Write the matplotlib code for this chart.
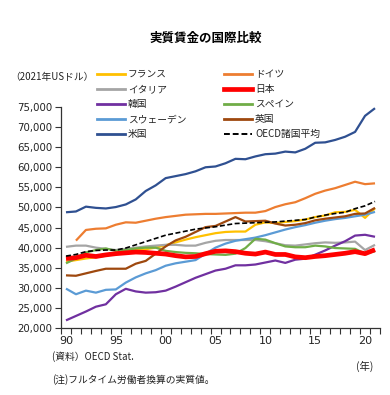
import matplotlib
matplotlib.use("Agg")
import matplotlib.pyplot as plt
from matplotlib.lines import Line2D
from matplotlib.ticker import FuncFormatter, FixedLocator
import numpy as np

plt.rcParams['font.family'] = ['Noto Sans CJK JP', 'DejaVu Sans']

years = list(range(1990, 2022))
tick_years = [1990, 1995, 2000, 2005, 2010, 2015, 2020]
tick_labels = ["90", "95", "00", "05", "10", "15", "20"]

france = [36500, 36900, 37300, 37600, 38000, 38600, 39000, 39400, 39600, 40000, 40600, 41300, 42000, 42600, 43100, 43600,
          43900, 44000, 44000, 45700, 46300, 46100, 46400, 46600, 47000, 47600, 48000, 48800, 48900, 49400, 47400, 49800]
germany = [np.nan, 41750, 44400, 44700, 44800, 45700, 46300, 46200, 46700, 47200, 47600, 47900, 48200, 48300, 48400, 48400,
           48500, 48600, 48700, 48700, 49100, 50100, 50800, 51300, 52300, 53400, 54200, 54800, 55600, 56400, 55800, 56000]
italy = [40200, 40500, 40500, 40000, 39700, 39400, 39700, 40000, 40300, 40500, 40700, 40700, 40500, 40500, 41200, 41700,
         41900, 41900, 41900, 41900, 41600, 41100, 40600, 40500, 40800, 41100, 41300, 41200, 41300, 41500, 39400, 40700]
japan = [37300, 37500, 38100, 37800, 38200, 38500, 38700, 38900, 38800, 38600, 38400, 38000, 37700, 37800, 38500, 39100,
         39200, 39000, 38600, 38400, 38900, 38300, 38300, 37700, 37500, 37800, 38000, 38300, 38600, 39000, 38500, 39500]
korea = [21900, 23000, 24100, 25300, 25900, 28400, 29750, 29100, 28800, 28900, 29300, 30300, 31400, 32500, 33400, 34300,
         34750, 35600, 35600, 35800, 36300, 36800, 36200, 37000, 37250, 38250, 39300, 40500, 41600, 43000, 43200, 42700]
spain = [36100, 37300, 38800, 39400, 39800, 39200, 39400, 39800, 40000, 40000, 39200, 38900, 38700, 38600, 38400, 38300,
         38200, 38500, 39900, 42200, 42000, 41100, 40300, 40100, 40100, 40500, 40300, 39900, 39800, 39700, 38500, 39100]
sweden = [29800, 28400, 29300, 28800, 29500, 29600, 31300, 32600, 33600, 34400, 35500, 36100, 36500, 36900, 38500, 40000,
          41000, 41700, 42100, 42500, 43100, 43800, 44500, 45100, 45600, 46200, 46700, 47100, 47400, 47800, 48200, 48900]
uk = [33100, 33000, 33600, 34200, 34750, 34750, 34750, 36000, 36700, 38500, 40300, 41800, 42700, 43900, 45100, 45400,
      46500, 47600, 46500, 46600, 46700, 46000, 45500, 45700, 46100, 46800, 47200, 47500, 47800, 48400, 48500, 49900]
usa = [48800, 49000, 50200, 49900, 49750, 50100, 50750, 52000, 54100, 55500, 57300, 57800, 58300, 59000, 60000, 60200,
       61000, 62100, 62000, 62700, 63250, 63400, 63900, 63700, 64600, 66100, 66200, 66800, 67600, 68800, 72800, 74700]
oecd = [37900, 38300, 39000, 39300, 39400, 39400, 39900, 40700, 41500, 42300, 43100, 43600, 44100, 44600, 44900, 45200,
        45600, 46000, 46100, 46200, 46300, 46400, 46600, 46800, 47000, 47600, 48100, 48500, 48800, 49700, 50400, 51500]

names = ["フランス", "イタリア", "韓国", "スウェーデン", "米国",
         "ドイツ", "日本", "スペイン", "英国", "OECD諸国平均"]
series = [france, italy, korea, sweden, usa, germany, japan, spain, uk, oecd]
colors = ["#FFC000", "#A5A5A5", "#7030A0", "#5B9BD5", "#2F5091",
          "#ED7D31", "#FF0000", "#70AD47", "#9E480E", "#000000"]
widths = [1.6, 1.6, 1.6, 1.6, 1.6, 1.6, 3.4, 1.6, 1.6, 1.2]
styles = ["-", "-", "-", "-", "-", "-", "-", "-", "-", (0, (3, 1.5))]
zorders = [3, 3, 3, 3, 3, 3, 4, 3, 3, 5]

W, H = 390, 395
fig = plt.figure(figsize=(W / 100, H / 100), dpi=100)
ax = fig.add_axes([61 / W, 67 / H, 319 / W, 221 / H])

for s, c, lw, ls, z in zip(series, colors, widths, styles, zorders):
    ax.plot(years, s, color=c, lw=lw, ls=ls, zorder=z, solid_capstyle='butt')

ax.set_xlim(1989.5, 2021.5)
ax.set_ylim(20000, 75000)
ax.set_yticks(np.arange(20000, 75001, 5000))
ax.yaxis.set_major_formatter(FuncFormatter(lambda v, p: f"{int(v):,}"))
ax.set_xticks(tick_years)
ax.set_xticklabels(tick_labels)
ax.xaxis.set_minor_locator(FixedLocator(np.arange(1989.5, 2022, 1.0)))
ax.tick_params(axis='x', which='major', length=0, pad=6, labelsize=8)
ax.tick_params(axis='x', which='minor', length=4, width=0.8, direction='out', color='#333333')
ax.tick_params(axis='y', which='major', length=4, width=0.8, direction='out', labelsize=7.3, pad=2, color='#333333')
for lab in ax.get_xticklabels() + ax.get_yticklabels():
    lab.set_family('DejaVu Sans')
    lab.set_color('#222222')
for sp in ['top', 'right']:
    ax.spines[sp].set_visible(False)
for sp in ['left', 'bottom']:
    ax.spines[sp].set_linewidth(0.9)
    ax.spines[sp].set_color('#333333')

# title and annotations
fig.text(206 / W, 1 - 38 / H, "実質賃金の国際比較", ha='center', va='center', fontsize=9, fontweight='bold')
fig.text(10 / W, 1 - 77 / H, "（2021年USドル）", ha='left', va='center', fontsize=7, color='#222222')
fig.text(52 / W, 1 - 357 / H, "(資料）OECD Stat.", ha='left', va='center', fontsize=7, color='#222222')
fig.text(373 / W, 1 - 366 / H, "(年)", ha='right', va='center', fontsize=7.5, color='#222222')
fig.text(52 / W, 1 - 380 / H, "(注)フルタイム労働者換算の実質値。", ha='left', va='center', fontsize=7, color='#222222')

# legend (two columns)
rows_y = [74, 89, 104, 119, 134]
col_x = [(97, 125, 128), (224, 252, 255)]
for i, (nm, c, lw, ls) in enumerate(zip(names, colors, widths, styles)):
    col, row = divmod(i, 5)
    x0, x1, xt = col_x[col]
    y = 1 - rows_y[row] / H
    fig.add_artist(Line2D([x0 / W, x1 / W], [y, y], transform=fig.transFigure,
                          color=c, lw=(lw if lw < 3 else 3.0) + (0.4 if ls == '-' else 0.2), ls=ls))
    fig.text(xt / W, y, nm, ha='left', va='center', fontsize=7, color='#222222')

fig.savefig("out.png", dpi=100)
